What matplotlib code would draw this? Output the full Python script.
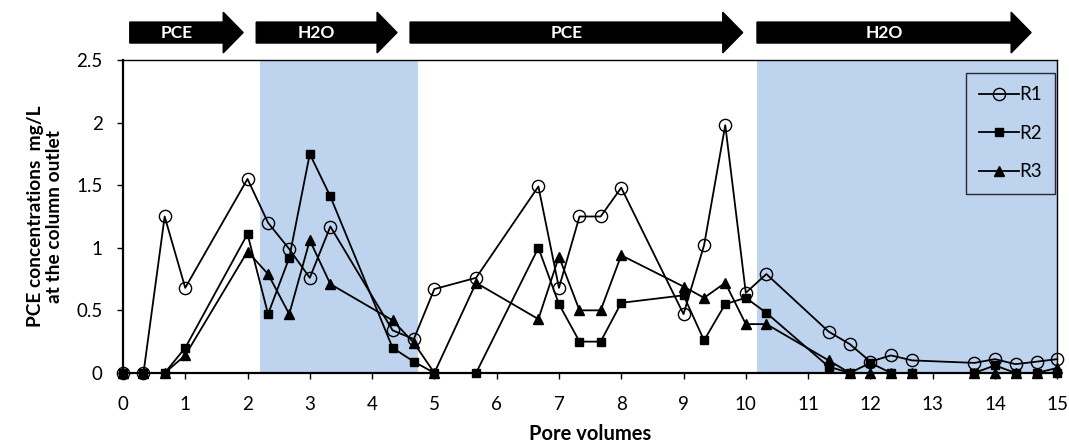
"""
PCE breakthrough at the column outlet for three replicate columns
"""

import matplotlib
matplotlib.use('Agg')
import matplotlib.pyplot as plt
import matplotlib.transforms as mtransforms
from matplotlib.patches import FancyArrow

# Pore volumes sampled
pv = [0, 0.33, 0.67, 1.0, 2.0, 2.33, 2.67, 3.0, 3.33, 4.33, 4.67, 5.0, 5.67,
      6.67, 7.0, 7.33, 7.67, 8.0, 9.0, 9.33, 9.67, 10.0, 10.33, 11.33, 11.67,
      12.0, 12.33, 12.67, 13.67, 14.0, 14.33, 14.67, 15.0]

# concentrations (mg/L)
r1 = [0, 0, 1.25, 0.68, 1.55, 1.2, 0.99, 0.76, 1.17, 0.34, 0.27, 0.67, 0.76,
      1.49, 0.68, 1.25, 1.25, 1.48, 0.47, 1.02, 1.98, 0.64, 0.79, 0.33, 0.23,
      0.09, 0.14, 0.10, 0.08, 0.11, 0.07, 0.09, 0.11]
r2 = [0, 0, 0, 0.2, 1.11, 0.47, 0.92, 1.75, 1.41, 0.2, 0.09, 0, 0,
      1.0, 0.55, 0.25, 0.25, 0.56, 0.62, 0.26, 0.55, 0.6, 0.48, 0.05, 0,
      0.08, 0, 0, 0, 0.06, 0, 0, 0]
r3 = [0, 0, 0, 0.14, 0.97, 0.79, 0.47, 1.06, 0.71, 0.42, 0.24, 0, 0.72,
      0.43, 0.93, 0.5, 0.5, 0.94, 0.69, 0.6, 0.72, 0.39, 0.39, 0.1, 0,
      0, 0, 0, 0, 0, 0, 0, 0.04]

# injection phases (start / end in pore volumes)
phase_names = ['PCE', 'H2O', 'PCE', 'H2O']
phase_start = [0.11, 2.14, 4.61, 10.18]
phase_end = [1.93, 4.40, 9.95, 14.58]

# water flushing periods shaded on the chart
flush_spans = [(2.2, 4.73), (10.18, 15.0)]

plt.rcParams['font.family'] = ['Lato', 'DejaVu Sans']

fig = plt.figure(figsize=(10.69, 4.45), dpi=100)
ax = fig.add_axes([0.115, 0.162, 0.874, 0.703])

for lo, hi in flush_spans:
    ax.axvspan(lo, hi, color='#bdd3ee', lw=0, zorder=0)

ax.plot(pv, r1, '-o', color='black', lw=1.3, ms=8.8, mfc='none', mec='black',
        mew=1.0, label='R1', clip_on=False, zorder=3)
ax.plot(pv, r2, '-s', color='black', lw=1.3, ms=6.4, label='R2',
        clip_on=False, zorder=4)
ax.plot(pv, r3, '-^', color='black', lw=1.3, ms=7.0, label='R3',
        clip_on=False, zorder=5)

ax.set_xlim(0, 15)
ax.set_ylim(0, 2.5)
ax.set_xticks(range(0, 16))
ax.set_yticks([0, 0.5, 1, 1.5, 2, 2.5])
ax.set_yticklabels(['0', '0.5', '1', '1.5', '2', '2.5'])
ax.tick_params(axis='both', direction='out', length=4.5, width=1,
               labelsize=13.5)
ax.tick_params(axis='x', pad=12)
ax.tick_params(axis='y', pad=10)

for side in ['left', 'bottom']:
    ax.spines[side].set_linewidth(1.6)
for side in ['top', 'right']:
    ax.spines[side].set_linewidth(1.0)

ax.set_xlabel('Pore volumes', fontsize=14.5, fontweight='bold', labelpad=8)
ax.set_ylabel('PCE concentrations  mg/L\nat the column outlet', fontsize=13.8,
              fontweight='bold', labelpad=10, linespacing=1.1)

leg = ax.legend(loc='upper right', bbox_to_anchor=(0.998, 0.958),
                borderaxespad=0, fancybox=False, edgecolor='black',
                facecolor='none', fontsize=13.5, handlelength=2.1,
                labelspacing=1.15, handletextpad=0.05, borderpad=0.7)
leg.get_frame().set_linewidth(1.0)

# phase arrows above the plot area (x in data, y in axes units)
trans = mtransforms.blended_transform_factory(ax.transData, ax.transAxes)
head_len = 0.32
for name, x0, x1 in zip(phase_names, phase_start, phase_end):
    arr = FancyArrow(x0, 1.088, x1 - x0, 0, width=0.067, head_width=0.13,
                     head_length=head_len, length_includes_head=True,
                     transform=trans, color='black', clip_on=False)
    ax.add_patch(arr)
    ax.text((x0 + x1 - head_len) / 2, 1.085, name, transform=trans,
            color='white', fontsize=12.5, fontweight='bold',
            ha='center', va='center')

plt.savefig('out.png', dpi=100)
plt.close()
